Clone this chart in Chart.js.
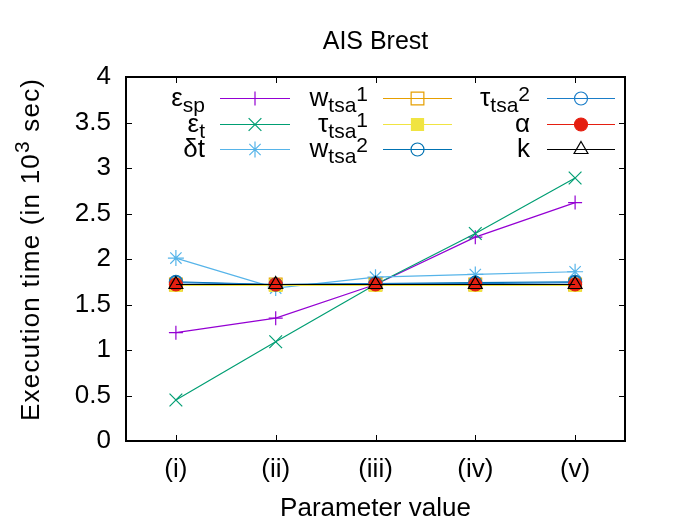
<!DOCTYPE html>
<html>
<head>
<meta charset="utf-8">
<script src="https://cdn.jsdelivr.net/npm/chart.js@4.4.0/dist/chart.umd.min.js"></script>
<style>
html, body { margin: 0; padding: 0; background: #fff; }
canvas { display: block; }
</style>
</head>
<body>
<canvas id="chart" width="675" height="525"></canvas>
<script>
// data
const categories = ['(i)', '(ii)', '(iii)', '(iv)', '(v)'];
const yMin = 0;
const yMax = 4;
const yStep = 0.5;

const epsSp   = [1.19, 1.35, 1.72, 2.24, 2.62];
const epsT    = [0.45, 1.09, 1.72, 2.28, 2.89];
const deltaT  = [2.01, 1.68, 1.80, 1.83, 1.86];
const wTsa1   = [1.72, 1.72, 1.72, 1.72, 1.72];
const tauTsa1 = [1.71, 1.71, 1.71, 1.71, 1.71];
const wTsa2   = [1.75, 1.72, 1.73, 1.74, 1.75];
const tauTsa2 = [1.74, 1.72, 1.73, 1.73, 1.74];
const alpha   = [1.72, 1.72, 1.72, 1.72, 1.72];
const kVals   = [1.72, 1.72, 1.72, 1.72, 1.72];

// legend text: [text, 0 normal | -1 subscript | 1 superscript]
const seriesNames = ['εsp', 'εt', 'δt', 'wtsa1', 'τtsa1', 'wtsa2', 'τtsa2', 'α', 'k'];
const legendParts = [
    [['ε', 0], ['sp', -1]],
    [['ε', 0], ['t', -1]],
    [['δt', 0]],
    [['w', 0], ['tsa', -1], ['1', 1]],
    [['τ', 0], ['tsa', -1], ['1', 1]],
    [['w', 0], ['tsa', -1], ['2', 1]],
    [['τ', 0], ['tsa', -1], ['2', 1]],
    [['α', 0]],
    [['k', 0]]
];

const FONT = "'Liberation Sans', Arial, sans-serif";
const FS = 26;

// look of each series
const styles = [
    {color: '#9400d3', point: 'cross',    radius: 7,   fill: 'rgba(0,0,0,0)'},
    {color: '#009e73', point: 'crossRot', radius: 9,   fill: 'rgba(0,0,0,0)'},
    {color: '#56b4e9', point: 'star',     radius: 8,   fill: 'rgba(0,0,0,0)'},
    {color: '#e69f00', point: 'rect',     radius: 9,   fill: 'rgba(0,0,0,0)'},
    {color: '#f0e442', point: 'rect',     radius: 8.5, fill: '#f0e442'},
    {color: '#0072b2', point: 'circle',   radius: 6.5, fill: 'rgba(0,0,0,0)'},
    {color: '#1a7dc8', point: 'circle',   radius: 6.5, fill: 'rgba(0,0,0,0)'},
    {color: '#e51e10', point: 'circle',   radius: 6.5, fill: '#e51e10'},
    {color: '#000000', point: 'triangle', radius: 8,   fill: 'rgba(0,0,0,0)'}
];

const allSeries = [epsSp, epsT, deltaT, wTsa1, tauTsa1, wTsa2, tauTsa2, alpha, kVals];

const datasets = allSeries.map((vals, i) => ({
    label: seriesNames[i],
    data: vals,
    borderColor: styles[i].color,
    backgroundColor: styles[i].fill,
    borderWidth: 1.2,
    pointStyle: styles[i].point,
    pointRadius: styles[i].radius,
    pointBorderWidth: 1.2,
    pointBorderColor: styles[i].color,
    pointBackgroundColor: styles[i].fill,
    fill: false,
    tension: 0,
    order: allSeries.length - i   // later series on top, like gnuplot
}));

// text with sub/superscripts
function richWidth(ctx, parts, size) {
    let w = 0;
    parts.forEach(p => {
        ctx.font = (p[1] === 0 ? size : Math.round(size * 0.8)) + 'px ' + FONT;
        w += ctx.measureText(p[0]).width;
    });
    return w;
}
function drawRich(ctx, parts, x, y, size, supShift) {
    let cx = x;
    parts.forEach(p => {
        const s = p[1] === 0 ? size : Math.round(size * 0.8);
        ctx.font = s + 'px ' + FONT;
        let dy = 0;
        if (p[1] === -1) dy = 6;
        if (p[1] === 1) dy = -supShift;
        ctx.fillText(p[0], cx, y + dy);
        cx += ctx.measureText(p[0]).width;
    });
}

const legendCols = [
    {textRight: 205, lineL: 220, lineR: 290},
    {textRight: 368, lineL: 383, lineR: 452},
    {textRight: 530, lineL: 547, lineR: 615}
];
const legendRows = [98, 124, 149];

const decorPlugin = {
    id: 'decor',
    afterDatasetsDraw(chart) {
        const {ctx, chartArea: a, scales: {x, y}} = chart;
        ctx.save();
        ctx.strokeStyle = '#000';
        ctx.lineWidth = 1;
        ctx.beginPath();
        categories.forEach((c, i) => {
            const px = Math.round(x.getPixelForValue(i)) + 0.5;
            ctx.moveTo(px, a.bottom); ctx.lineTo(px, a.bottom - 6);
            ctx.moveTo(px, a.top); ctx.lineTo(px, a.top + 6);
        });
        y.ticks.forEach(t => {
            const py = Math.round(y.getPixelForValue(t.value)) + 0.5;
            ctx.moveTo(a.left, py); ctx.lineTo(a.left + 6, py);
            ctx.moveTo(a.right, py); ctx.lineTo(a.right - 6, py);
        });
        ctx.stroke();
        ctx.lineWidth = 2;
        ctx.strokeRect(a.left, a.top, a.width, a.height);
        ctx.restore();
    },
    afterDraw(chart) {
        const {ctx, chartArea: a} = chart;
        ctx.save();
        ctx.fillStyle = '#000';

        // title
        ctx.font = '25px ' + FONT;
        ctx.textAlign = 'center';
        ctx.textBaseline = 'alphabetic';
        ctx.fillText('AIS Brest', (a.left + a.right) / 2, 49);

        // x axis title
        ctx.font = FS + 'px ' + FONT;
        ctx.fillText('Parameter value', (a.left + a.right) / 2, 516);

        // y axis title, rotated, with superscript; starts low like the original
        const yTitle = [['Execution time (in 10', 0], ['3', 1], [' sec)', 0]];
        ctx.textAlign = 'left';
        ctx.save();
        ctx.letterSpacing = '1.2px';
        ctx.translate(39, 421);
        ctx.rotate(-Math.PI / 2);
        drawRich(ctx, yTitle, 0, 0, FS, 10);
        ctx.restore();

        // key
        chart.data.datasets.forEach((ds, i) => {
            const col = legendCols[Math.floor(i / 3)];
            const rowY = legendRows[i % 3];
            const parts = legendParts[i];
            const w = richWidth(ctx, parts, FS);
            ctx.fillStyle = '#000';
            drawRich(ctx, parts, col.textRight - w, rowY + 8, FS, 5);

            ctx.strokeStyle = ds.borderColor;
            ctx.lineWidth = 1.2;
            ctx.beginPath();
            ctx.moveTo(col.lineL, rowY + 0.5);
            ctx.lineTo(col.lineR, rowY + 0.5);
            ctx.stroke();

            ctx.fillStyle = ds.pointBackgroundColor;
            Chart.helpers.drawPoint(ctx, {
                pointStyle: ds.pointStyle,
                radius: ds.pointRadius,
                rotation: 0,
                borderWidth: 1.2
            }, (col.lineL + col.lineR) / 2, rowY + 0.5);
        });
        ctx.restore();
    }
};

Chart.defaults.font.family = FONT;
Chart.defaults.font.size = FS;
Chart.defaults.color = '#000';

new Chart(document.getElementById('chart'), {
    type: 'line',
    data: {
        labels: categories,
        datasets: datasets
    },
    options: {
        responsive: false,
        animation: false,
        layout: {padding: {top: 77, right: 50, left: 0, bottom: 0}},
        plugins: {
            legend: {display: false},
            title: {display: false},
            tooltip: {enabled: false}
        },
        scales: {
            x: {
                type: 'category',
                offset: true,
                grid: {display: false, drawTicks: false},
                border: {display: false},
                ticks: {padding: 13, font: {size: FS}, color: '#000', maxRotation: 0},
                afterFit(scale) { scale.height = 84; }
            },
            y: {
                min: yMin,
                max: yMax,
                grid: {display: false, drawTicks: false},
                border: {display: false},
                ticks: {
                    stepSize: yStep, padding: 15, font: {size: FS}, color: '#000',
                    callback: v => String(v)
                },
                afterFit(scale) { scale.width = 126; }
            }
        }
    },
    plugins: [decorPlugin]
});
</script>
</body>
</html>
